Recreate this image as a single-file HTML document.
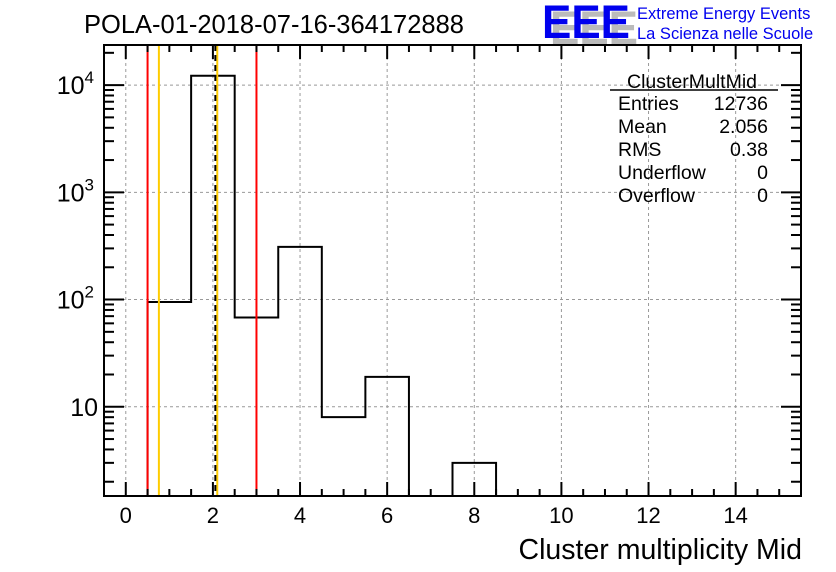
<!DOCTYPE html>
<html><head><meta charset="utf-8"><style>
body{margin:0;background:#fff;}
svg{display:block;font-family:"Liberation Sans",Arial,sans-serif;}
</style></head><body>
<svg id="c" width="836" height="572" viewBox="0 0 836 572">
<rect width="836" height="572" fill="#fff"/>
<text x="84" y="33" font-size="25.5">POLA-01-2018-07-16-364172888</text>
<g>
<text x="550" y="44" font-size="47" font-weight="bold" fill="#bbb" textLength="88" lengthAdjust="spacingAndGlyphs">EEE</text>
<text x="542" y="38" font-size="47" font-weight="bold" fill="#0000ee" textLength="88" lengthAdjust="spacingAndGlyphs">EEE</text>
<text x="637" y="19" font-size="16.5" fill="#0000ee">Extreme Energy Events</text>
<text x="637" y="39" font-size="16.5" fill="#0000ee">La Scienza nelle Scuole</text>
</g>
<g id="grid"></g>
<g id="marks"></g>
<rect x="104" y="45" width="697" height="451" fill="none" stroke="#000" stroke-width="2"/>
<g id="axes"></g>
<g font-size="19.5">
<text x="692" y="88" text-anchor="middle">ClusterMultMid</text>
<line x1="610" y1="90" x2="778" y2="90" stroke="#000" stroke-width="1.5"/>
<text x="618" y="110">Entries</text><text x="768" y="110" text-anchor="end">12736</text>
<text x="618" y="133">Mean</text><text x="768" y="133" text-anchor="end">2.056</text>
<text x="618" y="156">RMS</text><text x="768" y="156" text-anchor="end">0.38</text>
<text x="618" y="179">Underflow</text><text x="768" y="179" text-anchor="end">0</text>
<text x="618" y="202">Overflow</text><text x="768" y="202" text-anchor="end">0</text>
</g>
<text x="802" y="559" font-size="28.5" text-anchor="end">Cluster multiplicity Mid</text>
</svg>
<script>
const binCenters=[1,2,3,4,5,6,7,8];
const binCounts=[95,12230,68,310,8,19,0,3];
const xTicks=[0,2,4,6,8,10,12,14];
const yTicks=[10,100,1000,10000];
const yTickLabels=["10","10^2","10^3","10^4"];
const redLines=[0.5,3.0];
const orangeLines=[0.76,2.1];
const meanLine=[2.056];

const NS="http://www.w3.org/2000/svg";
const X0=104,X1=801,Y0=496,Y1=45,xmin=-0.5,xmax=15.5,lmin=0.168,lmax=4.374;
const xs=v=>X0+(v-xmin)/(xmax-xmin)*(X1-X0);
const ys=v=>Y0-(Math.log10(v)-lmin)/(lmax-lmin)*(Y0-Y1);
function mk(t,a,p){const e=document.createElementNS(NS,t);for(const k in a)e.setAttribute(k,a[k]);p.appendChild(e);return e;}
const grid=document.getElementById('grid'),marks=document.getElementById('marks'),axes=document.getElementById('axes');
xTicks.forEach(v=>{const l=mk('line',{x1:xs(v),x2:xs(v),y1:Y1,y2:Y0,stroke:'#999','stroke-dasharray':'3,3'},grid);

});
yTicks.forEach(v=>{const l=mk('line',{x1:X0,x2:X1,y1:ys(v),y2:ys(v),stroke:'#999','stroke-dasharray':'3,3'},grid);

});
let d='',prev=null;
binCenters.forEach((c,i)=>{const v=binCounts[i];const a=xs(c-0.5),b=xs(c+0.5);
 const y=v>0?ys(v):Y0;
 d+=(prev===null?`M${a},${Y0}`:'')+`L${a},${y}L${b},${y}`;prev=y;});
d+=`L${xs(binCenters[binCenters.length-1]+0.5)},${Y0}`;
const h=mk('path',{d:d,fill:'none',stroke:'#000','stroke-width':2},marks);


redLines.forEach(v=>{const l=mk('line',{x1:xs(v),x2:xs(v),y1:Y1,y2:Y0,stroke:'#f00','stroke-width':2},marks);

});
orangeLines.forEach(v=>{const l=mk('line',{x1:xs(v),x2:xs(v),y1:Y1,y2:Y0,stroke:'#fc0','stroke-width':2},marks);

});
meanLine.forEach(v=>{const l=mk('line',{x1:xs(v),x2:xs(v),y1:Y1,y2:Y0,stroke:'#000','stroke-width':2,'stroke-dasharray':'6,4'},marks);

});
for(let v=0;v<=15;v+=0.5){const major=Math.abs(v%2)<1e-9;const len=major?14:7;
 mk('line',{x1:xs(v),x2:xs(v),y1:Y0,y2:Y0-len,stroke:'#000','stroke-width':2},axes);
 mk('line',{x1:xs(v),x2:xs(v),y1:Y1,y2:Y1+len,stroke:'#000','stroke-width':2},axes);}
xTicks.forEach(v=>{const t=mk('text',{x:xs(v),y:Y0+27,'font-size':22,'text-anchor':'middle'},axes);t.textContent=v;

});
for(let e=0;e<=4;e++)for(let m=1;m<=9;m++){const v=m*Math.pow(10,e);const y=ys(v);if(y<Y1||y>Y0)continue;const len=m===1?20:10;
 mk('line',{x1:X0,x2:X0+len,y1:y,y2:y,stroke:'#000','stroke-width':2},axes);
 mk('line',{x1:X1,x2:X1-len,y1:y,y2:y,stroke:'#000','stroke-width':2},axes);}
yTicks.forEach((v,i)=>{const lab=yTickLabels[i];const y=ys(v)+9;let t;
 if(lab.includes('^')){const [b,p]=lab.split('^');
  t=mk('text',{x:X0-10,y:y,'font-size':25,'text-anchor':'end'},axes);
  const s1=mk('tspan',{},t);s1.textContent=b;const s2=mk('tspan',{dy:-11,'font-size':17},t);s2.textContent=p;}
 else{t=mk('text',{x:X0-6,y:y,'font-size':25,'text-anchor':'end'},axes);t.textContent=lab;}
 
 });
</script>
</body></html>
